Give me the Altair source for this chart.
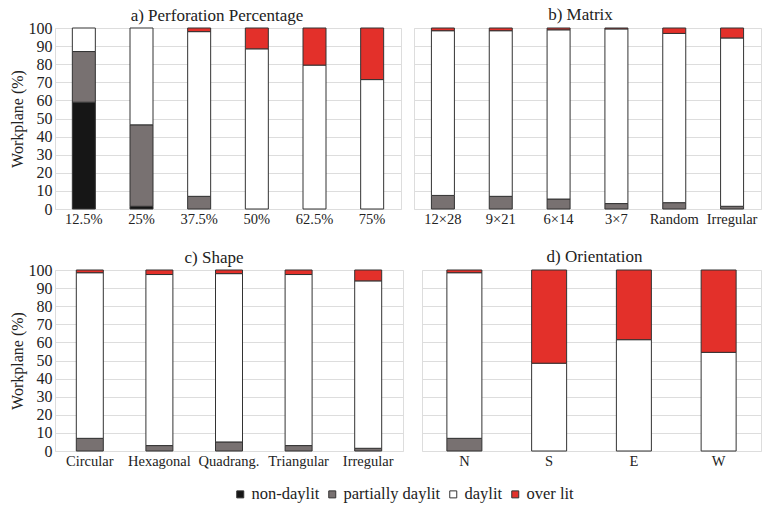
import altair as alt
import pandas as pd

FONT = "'Liberation Serif', 'Times New Roman', serif"
names = ["non-daylit", "partially daylit", "daylit", "over lit"]
colors = ["#161616", "#787171", "#ffffff", "#e3302a"]

# a) Perforation Percentage
cats_a = ["12.5%", "25%", "37.5%", "50%", "62.5%", "75%"]
non_a = [59, 1.5, 0, 0, 0, 0]
part_a = [28, 45, 7, 0, 0, 0]
day_a = [13, 53.5, 91, 88.5, 79.5, 71.5]
over_a = [0, 0, 2, 11.5, 20.5, 28.5]

# b) Matrix
cats_b = ["12×28", "9×21", "6×14", "3×7", "Random", "Irregular"]
non_b = [0, 0, 0, 0, 0, 0]
part_b = [7.5, 7, 5.5, 3, 3.5, 1.5]
day_b = [91, 91.5, 93.5, 96.5, 93.5, 93]
over_b = [1.5, 1.5, 1, 0.5, 3, 5.5]

# c) Shape
cats_c = ["Circular", "Hexagonal", "Quadrang.", "Triangular", "Irregular"]
non_c = [0, 0, 0, 0, 0]
part_c = [7, 3, 5, 3, 1.5]
day_c = [91.5, 94.5, 93, 94.5, 92.5]
over_c = [1.5, 2.5, 2, 2.5, 6]

# d) Orientation
cats_d = ["N", "S", "E", "W"]
non_d = [0, 0, 0, 0]
part_d = [7, 0, 0, 0]
day_d = [91.5, 48.5, 61.5, 54.5]
over_d = [1.5, 51.5, 38.5, 45.5]


def panel(cats, series, title, w, bsize, show_y, dx, toff):
    rows = []
    for i, c in enumerate(cats):
        for k, vals in enumerate(series):
            if vals[i] > 0:
                rows.append({"cat": c, "cls": names[k], "val": vals[i], "ord": k})
    df = pd.DataFrame(rows)
    return (
        alt.Chart(df, title=alt.Title(title, fontSize=17, font=FONT, fontWeight="normal",
                                      frame="group", offset=toff, dx=dx, color="#222"))
        .mark_bar(size=bsize, stroke="#333", strokeWidth=1)
        .encode(
            x=alt.X("cat:N", sort=cats,
                    axis=alt.Axis(title=None, labelAngle=0, ticks=False, domain=False,
                                  grid=False, labelPadding=3, labelFontSize=14.5,
                                  labelFont=FONT, labelColor="#222")),
            y=alt.Y("val:Q", stack="zero", scale=alt.Scale(domain=[0, 100], nice=False),
                    axis=alt.Axis(values=list(range(0, 101, 10)),
                                  title="Workplane (%)" if show_y else None,
                                  labels=show_y, ticks=False, domain=False,
                                  grid=True, gridColor="#dddddd",
                                  labelFontSize=16, labelFont=FONT, labelColor="#222",
                                  labelPadding=3, titleFont=FONT, titleFontSize=16,
                                  titleFontWeight="normal", titleColor="#222",
                                  titlePadding=3)),
            color=alt.Color("cls:N",
                            scale=alt.Scale(domain=names, range=colors),
                            legend=alt.Legend(title=None, orient="none", direction="horizontal",
                                              legendX=177, legendY=458,
                                              symbolType="square", symbolSize=49,
                                              symbolStrokeColor="#333", symbolStrokeWidth=1,
                                              labelFont=FONT, labelFontSize=16.5,
                                              labelColor="#222", columnPadding=4,
                                              labelOffset=3)),
            order=alt.Order("ord:Q"),
        )
        .properties(width=w, height=181)
    )


pa = panel(cats_a, [non_a, part_a, day_a, over_a], "a) Perforation Percentage", 346, 23, True, -11, -5)
pb = panel(cats_b, [non_b, part_b, day_b, over_b], "b) Matrix", 347, 23, False, -7, 4)
pc = panel(cats_c, [non_c, part_c, day_c, over_c], "c) Shape", 348, 27, True, -15, -5)
pd_ = panel(cats_d, [non_d, part_d, day_d, over_d], "d) Orientation", 339, 35, False, 3, 4)

chart = (
    alt.vconcat(
        alt.hconcat(pa, pb, spacing=11),
        alt.hconcat(pc, pd_, spacing=17),
        spacing=21,
    )
    .properties(padding={"left": 8, "top": 5, "right": 0, "bottom": 0}, background="white")
    .configure_view(stroke="#888888", strokeWidth=1)
    .configure(font=FONT)
)

chart.save("out.html", embed_options={"renderer": "svg", "actions": False})
